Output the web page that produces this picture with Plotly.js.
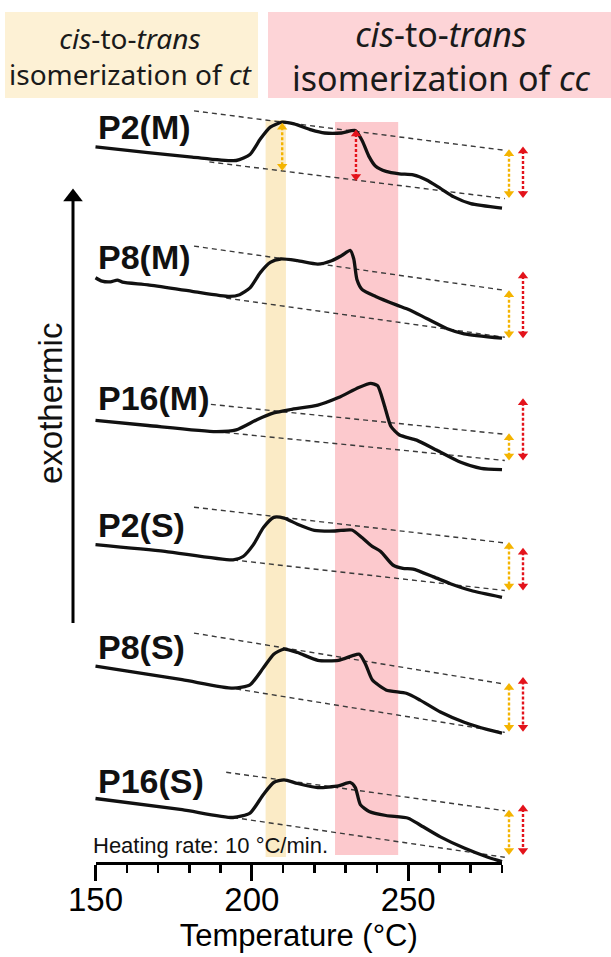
<!DOCTYPE html>
<html><head><meta charset="utf-8">
<script src="https://cdn.plot.ly/plotly-3.0.1.min.js"></script>
<style>html,body{margin:0;padding:0;background:#fff}#chart{width:611px;height:957px}</style>
</head><body><div id="chart"></div>
<script>
// ---------------- data ----------------
const sampleNames = ['P2(M)','P8(M)','P16(M)','P2(S)','P8(S)','P16(S)'];

const tempP2M = [150,166.8,180.9,195.0,199.4,202.7,205.9,209.7,213.5,219.0,223.3,228.7,233.1,235.3,237.4,239.6,242.9,247.2,251.6,255.9,260.3,264.6,270.0,280];
const heatP2M = [0,-5.8,-10.2,-13.6,-7.5,7.8,19.7,24.8,23.1,17,13.9,13.9,16.3,6.1,-9.2,-19.4,-24.5,-26.9,-27.9,-33,-41.5,-50,-56.8,-61.2];

const tempP8M = [150,152.1,154.8,157,158.6,166.8,180.9,192.9,196.1,199.4,202.7,205.9,209.2,214.6,221.1,225.5,228.7,231.5,232.6,233.6,235.3,239.6,246.2,250.5,255.9,262.5,267.9,280];
const heatP8M = [0,-3.4,-4.1,-2.4,-4.4,-7.1,-13.6,-18.7,-17,-10.2,5.1,15.3,18.7,17,13.6,17,22.1,27.2,18.7,-1.7,-11.9,-18.7,-27.2,-32.3,-40.8,-51,-56.1,-60.5];

const tempP16M = [150,166.8,188.5,195,201.6,207,212.4,221.1,227.7,234.2,238,240.2,242.3,244.5,247.2,252.7,259.2,266.8,273.3,280];
const heatP16M = [0,-5.1,-11.2,-9.5,0.7,7.5,10.9,15.3,22.8,33,37.1,34.7,16,-6.1,-14.6,-19.7,-29.9,-41.8,-47.9,-49.3];

const tempP2S = [150,172.2,194,197.2,200.5,203.7,207,210.3,214.6,220,226.6,232,235.3,238.5,241.2,245.1,248.3,251.6,258.1,263.5,270.1,280];
const heatP2S = [0,-6.8,-15.3,-11.9,0,17,27.2,26.5,20.4,14.3,13.6,14.6,6.8,-1.7,-6.8,-20.4,-23.8,-24.5,-32.3,-39.1,-45.9,-52.7];

const tempP8S = [150,177.7,194,199.4,203.7,207,210.3,214.6,221.1,227.7,232,234.4,236.4,238.5,242.9,249.4,253.8,260.3,267.9,275.5,280];
const heatP8S = [0,-13.6,-22.1,-18.7,-1.7,11.9,17,13.6,5.8,5.8,10.2,11.9,1.7,-13.6,-23.8,-27.2,-34,-45.9,-56.1,-63.6,-67];

const tempP16S = [150,177.7,194,199.4,203.7,207,210.3,214.6,221.1,227.7,231.5,233.1,234.7,237.5,242.9,250,253.8,260.3,267.9,275.5,280];
const heatP16S = [0,-11.2,-19,-14.6,4.1,16,18.7,15,10.9,12.6,16,10.9,-6.1,-12.9,-17,-19.7,-26.5,-38.4,-49.6,-58.8,-63.2];

// vertical stacking offset of each curve (a.u.)
const offsets = [715.1, 584.3, 441.6, 317.4, 195.9, 63.5];

// dashed tangent lines [T start, heat start, T end, heat end]
const upperLine = [[181.5,36,280.9,-3.4],[181.5,31.6,280.9,-12.6],[186.9,16,280.9,-13.9],[181.5,37.4,280.9,1.7],[181.5,33,280.9,-18],[191.8,26.2,280.9,-12.2]];
const lowerLine = [[186.4,-15,280.9,-51.7],[191.8,-20.4,280.9,-59.5],[188.5,-11.2,280.9,-40.1],[194,-15.3,280.9,-45.9],[195,-22.8,280.9,-66.3],[194,-19,280.9,-58.8]];

// exotherm heights (right-hand double arrows)
const ctTop = [-3.4,-13.6,-13.9,1.7,-18,-12.2];
const ccTop = [-0.7,5.1,21.1,-4.1,-11.9,-7.1];
const arrowBottom = [-50,-59.5,-39.1,-44.9,-64.6,-55.4];

// in-curve arrows of P2(M): [T, top, bottom]
const ctInner = [209.7, 23.1, -22.8];
const ccInner = [233.3, 16.3, -33];

// temperature ranges of the shaded bands
const ctBand = [204.4, 210.9];
const ccBand = [226.6, 246.8];

const xTicks = [150, 200, 250];
const xMinorTicks = [160,170,180,190,210,220,230,240,260,270,280];

// ---------------- layout geometry ----------------
const W = 611, H = 957;
const AXL = 95.5, AXR = 502, AXY = 862;   // px of 150 °C, 280 °C, axis line
const s = (AXR - AXL) / 130;
const x2range = [150 - AXL / s, 150 + (W - AXL) / s];
const pxToT = px => 150 + (px - AXL) / s;
const pyToV = py => AXY - py;

const temps = [tempP2M, tempP8M, tempP16M, tempP2S, tempP8S, tempP16S];
const heats = [heatP2M, heatP8M, heatP16M, heatP2S, heatP8S, heatP16S];

const YEL = '#F4B400', RED = '#E3131B';
const traces = [];

traces.push({x:[150], y:[0], xaxis:'x', yaxis:'y', mode:'markers', marker:{opacity:0}, hoverinfo:'skip', showlegend:false});

function dashLine(seg, off) {
  traces.push({x:[seg[0], seg[2]], y:[seg[1]+off, seg[3]+off], xaxis:'x2', yaxis:'y', mode:'lines',
    line:{color:'#3a3a3a', width:1.4, dash:'5px,4px'}, hoverinfo:'skip', showlegend:false});
}
function dblArrow(xv, top, bottom, color) {
  traces.push({x:[xv, xv], y:[top - 3.5, bottom + 3.5], xaxis:'x2', yaxis:'y', mode:'lines+markers',
    line:{color:color, width:2.4, dash:'3px,2px'},
    marker:{symbol:['triangle-up','triangle-down'], size:9, color:color},
    hoverinfo:'skip', showlegend:false});
}

for (let i = 0; i < 6; i++) {
  dashLine(upperLine[i], offsets[i]);
  dashLine(lowerLine[i], offsets[i]);
}
for (let i = 0; i < 6; i++) {
  const off = offsets[i];
  traces.push({x: temps[i], y: heats[i].map(v => v + off), xaxis:'x2', yaxis:'y', mode:'lines',
    name: sampleNames[i], line:{color:'#111', width:3.3, shape:'spline', smoothing:0.6}, showlegend:false});
}
for (let i = 0; i < 6; i++) {
  const off = offsets[i];
  dblArrow(pxToT(509), ctTop[i] + off, arrowBottom[i] + off, YEL);
  dblArrow(pxToT(523), ccTop[i] + off, arrowBottom[i] + off, RED);
}
dblArrow(ctInner[0], ctInner[1] + offsets[0], ctInner[2] + offsets[0], YEL);
dblArrow(ccInner[0], ccInner[1] + offsets[0], ccInner[2] + offsets[0], RED);

// "exothermic" arrow
const exoT = pxToT(73);
traces.push({x:[exoT, exoT], y:[pyToV(623), pyToV(196)], xaxis:'x2', yaxis:'y', mode:'lines',
  line:{color:'#000', width:3}, hoverinfo:'skip', showlegend:false});
traces.push({x:[exoT], y:[pyToV(197)], xaxis:'x2', yaxis:'y', mode:'markers',
  marker:{symbol:'triangle-up', size:17, color:'#000'}, hoverinfo:'skip', showlegend:false});

const shapes = [
  {type:'rect', xref:'paper', yref:'paper', x0:5/W, x1:258/W, y0:1-98/H, y1:1-12/H, fillcolor:'#FDF1D5', line:{width:0}, layer:'below'},
  {type:'rect', xref:'paper', yref:'paper', x0:268/W, x1:1, y0:1-98/H, y1:1-12/H, fillcolor:'#FDD4D7', line:{width:0}, layer:'below'},
  {type:'rect', xref:'x', yref:'y', x0:ctBand[0], x1:ctBand[1], y0:pyToV(857), y1:pyToV(120), fillcolor:'#FBEBC6', line:{width:0}, layer:'below'},
  {type:'rect', xref:'x', yref:'y', x0:ccBand[0], x1:ccBand[1], y0:pyToV(855), y1:pyToV(122), fillcolor:'#FCC9CD', line:{width:0}, layer:'below'}
];

const annotations = [
  {xref:'paper', yref:'paper', x:131/W, y:1-56/H, xanchor:'center', yanchor:'middle', showarrow:false,
   text:'<i>cis</i>-to-<i>trans</i><br>isomerization of <i>ct</i>', font:{family:'Noto Sans', size:28, color:'#1a1a1a'}},
  {xref:'paper', yref:'paper', x:441/W, y:1-56/H, xanchor:'center', yanchor:'middle', showarrow:false,
   text:'<i>cis</i>-to-<i>trans</i><br>isomerization of <i>cc</i>', font:{family:'Noto Sans', size:34, color:'#1a1a1a'}},
  {xref:'paper', yref:'paper', x:50/W, y:1-404/H, xanchor:'center', yanchor:'middle', showarrow:false, textangle:-90,
   text:'exothermic', font:{family:'Liberation Sans', size:33, color:'#111'}},
  {xref:'paper', yref:'paper', x:91/W, y:1-845/H, xanchor:'left', yanchor:'middle', showarrow:false,
   text:'Heating rate: 10 °C/min.', font:{family:'Liberation Sans', size:22, color:'#111'}}
];
const labelLift = [19.7, 20.4, 22.8, 19.7, 18.7, 17.7];
for (let i = 0; i < 6; i++) {
  annotations.push({xref:'x2', yref:'y', x:150, y:offsets[i] + labelLift[i], xanchor:'left', yanchor:'middle', showarrow:false,
    text:'<b>' + sampleNames[i] + '</b>', font:{family:'Liberation Sans', size:34, color:'#111'}});
}

const axFont = {family:'Liberation Sans', color:'#000'};
const layout = {
  width:W, height:H, margin:{l:0, r:0, t:0, b:0}, paper_bgcolor:'#fff', plot_bgcolor:'rgba(0,0,0,0)', showlegend:false,
  xaxis:{domain:[AXL/W, AXR/W], range:[150,280], anchor:'y', tickmode:'array', tickvals:xTicks, ticks:'outside', ticklen:16, tickwidth:3,
    tickcolor:'#000', showline:true, linewidth:3, linecolor:'#000', showgrid:false, zeroline:false, fixedrange:true,
    ticklabelstandoff:-10,
    tickfont:Object.assign({size:33}, axFont),
    minor:{tickmode:'array', tickvals:xMinorTicks, ticks:'outside', ticklen:8, tickwidth:2.5, tickcolor:'#000', showgrid:false},
    title:{text:'Temperature (°C)', font:Object.assign({size:31}, axFont), standoff:6}},
  xaxis2:{domain:[0,1], range:x2range, anchor:'y', visible:false, fixedrange:true},
  yaxis:{domain:[(H-AXY)/H, 1], range:[0, AXY], anchor:'x', visible:false, fixedrange:true},
  shapes:shapes, annotations:annotations
};
Plotly.newPlot('chart', traces, layout, {staticPlot:true});
</script></body></html>
